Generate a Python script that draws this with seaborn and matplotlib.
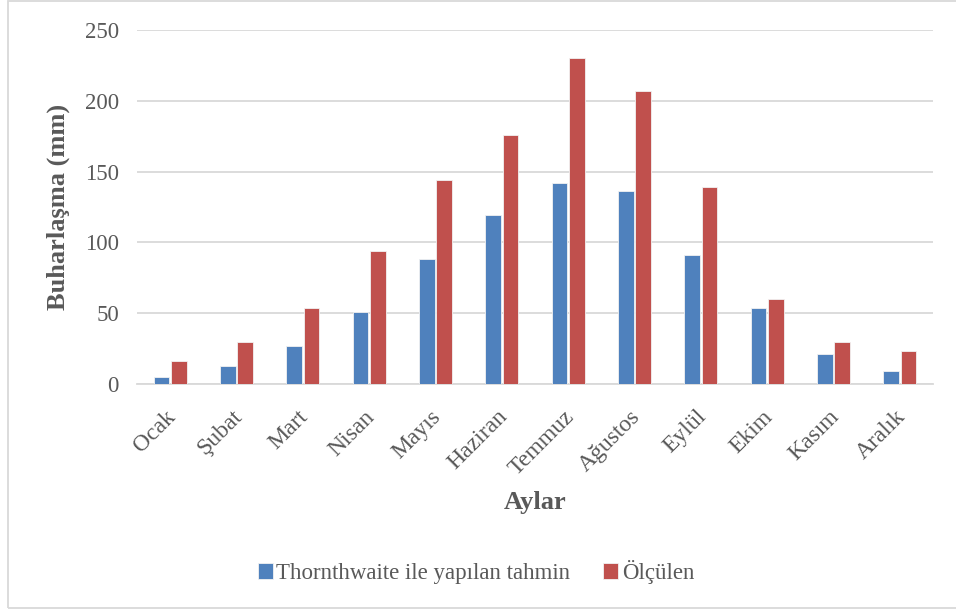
import matplotlib
matplotlib.use("Agg")
import matplotlib.pyplot as plt
import matplotlib.transforms as mtransforms
import seaborn as sns
import pandas as pd
from matplotlib.patches import Rectangle

# Monthly evaporation (mm)
months = ["Ocak", "Şubat", "Mart", "Nisan", "Mayıs", "Haziran",
          "Temmuz", "Ağustos", "Eylül", "Ekim", "Kasım", "Aralık"]
thornthwaite = [5, 13, 27, 51, 88, 119, 142, 136, 91, 54, 21, 9]
measured = [16, 30, 54, 94, 144, 176, 230, 207, 139, 60, 30, 23]
series_names = ["Thornthwaite ile yapılan tahmin", "Ölçülen"]
y_ticks = [0, 50, 100, 150, 200, 250]

df = pd.DataFrame({
    "Ay": months * 2,
    "Seri": [series_names[0]] * len(months) + [series_names[1]] * len(months),
    "Değer": thornthwaite + measured,
})

sns.set_theme(style="white")
plt.rcParams["font.family"] = ["Liberation Serif", "DejaVu Serif"]
text_col = "#595959"
grid_col = "#D9D9D9"

fig = plt.figure(figsize=(9.56, 6.12), dpi=100)
ax = fig.add_axes([137 / 956, 1 - 384 / 612, 796 / 956, 354 / 612])

sns.barplot(data=df, x="Ay", y="Değer", hue="Seri", order=months,
            hue_order=series_names, palette=["#4F81BD", "#C0504D"],
            width=0.52, gap=0.1, edgecolor="#F2F2F2", linewidth=0.6,
            saturation=1, ax=ax, legend=True, zorder=3)

ax.set_ylim(0, 250)
ax.set_xlim(-0.5, len(months) - 0.5)
ax.set_yticks(y_ticks)
ax.set_yticklabels([str(v) for v in y_ticks])
ax.yaxis.grid(True, color=grid_col, linewidth=1.3, zorder=0)
ax.set_axisbelow(True)
for side in ["top", "right", "left"]:
    ax.spines[side].set_visible(False)
ax.spines["bottom"].set_color(grid_col)
ax.spines["bottom"].set_linewidth(1.3)

ax.tick_params(axis="y", length=0, labelsize=16.5, labelcolor=text_col, pad=13)
ax.tick_params(axis="x", length=0, labelsize=17, labelcolor=text_col, pad=16)
shift_left = mtransforms.ScaledTranslation(-5 / 100, 0, fig.dpi_scale_trans)
for lbl in ax.get_xticklabels():
    lbl.set_rotation(45)
    lbl.set_ha("right")
    lbl.set_va("top")
    lbl.set_rotation_mode("anchor")
    lbl.set_transform(lbl.get_transform() + shift_left)

ax.set_xlabel("Aylar", fontsize=19, fontweight="bold", color=text_col)
ax.xaxis.set_label_coords(0.5, (384 - 503) / 354)
ax.xaxis.label.set_va("center")
ax.set_ylabel("Buharlaşma (mm)", fontsize=19, fontweight="bold", color=text_col)
ax.yaxis.set_label_coords((58 - 137) / 796, 0.5)
ax.yaxis.label.set_va("center")

handles, labels = ax.get_legend_handles_labels()
ax.legend(handles, labels, loc="center", bbox_to_anchor=(476 / 956, 1 - 572 / 612),
          bbox_transform=fig.transFigure, ncol=2, frameon=False, fontsize=16.5,
          handlelength=0.65, handleheight=0.65, handletextpad=0.15,
          columnspacing=1.45, labelcolor=text_col)

# Outer chart border
fig.patches.append(Rectangle((8 / 956, 4 / 612), 1.1, 1 - 5 / 612,
                             transform=fig.transFigure, fill=False,
                             edgecolor=grid_col, linewidth=1.3))

fig.savefig("out.png", dpi=100)
